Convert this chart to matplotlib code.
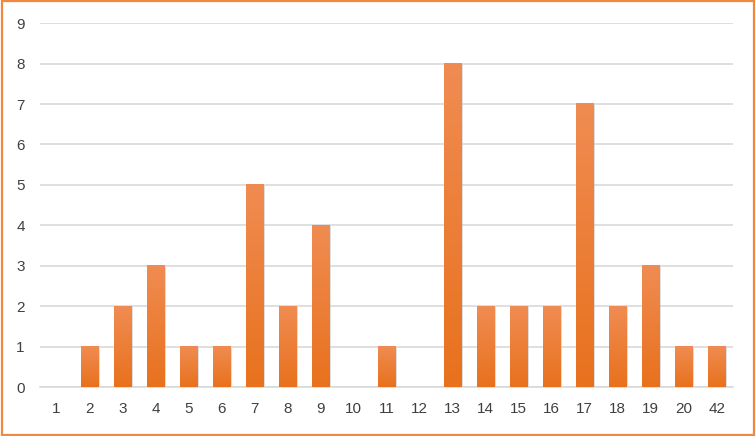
import numpy as np
import matplotlib
matplotlib.use("Agg")
import matplotlib.pyplot as plt
from matplotlib.colors import LinearSegmentedColormap
from matplotlib.patches import Rectangle

# --- data ---
categories = ['1', '2', '3', '4', '5', '6', '7', '8', '9', '10', '11',
              '12', '13', '14', '15', '16', '17', '18', '19', '20', '42']
counts = [0, 1, 2, 3, 1, 1, 5, 2, 4, 0, 1, 0, 8, 2, 2, 2, 7, 2, 3, 1, 1]

plt.rcParams['font.family'] = ['Liberation Sans', 'DejaVu Sans']

fig = plt.figure(figsize=(7.56, 4.36), dpi=100)
ax = fig.add_axes([0.053, 0.112, 0.917, 0.835])

x = np.arange(len(categories))
bars = ax.bar(x, counts, width=0.52, color='none', edgecolor='none', zorder=3)

# gradient fill (lighter at top, darker at bottom)
cmap = LinearSegmentedColormap.from_list('og', ['#E8711D', '#F08C52'])
grad = np.linspace(0, 1, 256).reshape(-1, 1)
for b in bars:
    h = b.get_height()
    if h <= 0:
        continue
    x0, w = b.get_x(), b.get_width()
    # soft shadow
    ax.add_patch(Rectangle((x0 + 0.05, 0), w, h - 0.02, color='#bdbdbd',
                           alpha=0.5, zorder=2, lw=0))
    ax.imshow(grad, cmap=cmap, origin='lower', aspect='auto',
              extent=(x0, x0 + w, 0, h), zorder=3)

ax.set_xlim(-0.5, len(categories) - 0.5)
ax.set_ylim(0, 9)
ax.set_yticks(range(10))
ax.set_xticks(x)
ax.set_xticklabels(categories)
ax.yaxis.grid(True, color='#d9d9d9', linewidth=1.2, zorder=0)
ax.set_axisbelow(True)
for s in ['top', 'right', 'left']:
    ax.spines[s].set_visible(False)
ax.spines['bottom'].set_color('#d9d9d9')
ax.spines['bottom'].set_linewidth(1.2)
ax.tick_params(length=0, labelsize=11, labelcolor='#404040', pad=11)
ax.tick_params(axis='y', pad=11)

# orange outer border
fig.patches.append(Rectangle((0.002, 0.003), 0.996, 0.994, transform=fig.transFigure,
                             fill=False, edgecolor='#F0883E', linewidth=1.6))

fig.savefig('out.png', dpi=100)
